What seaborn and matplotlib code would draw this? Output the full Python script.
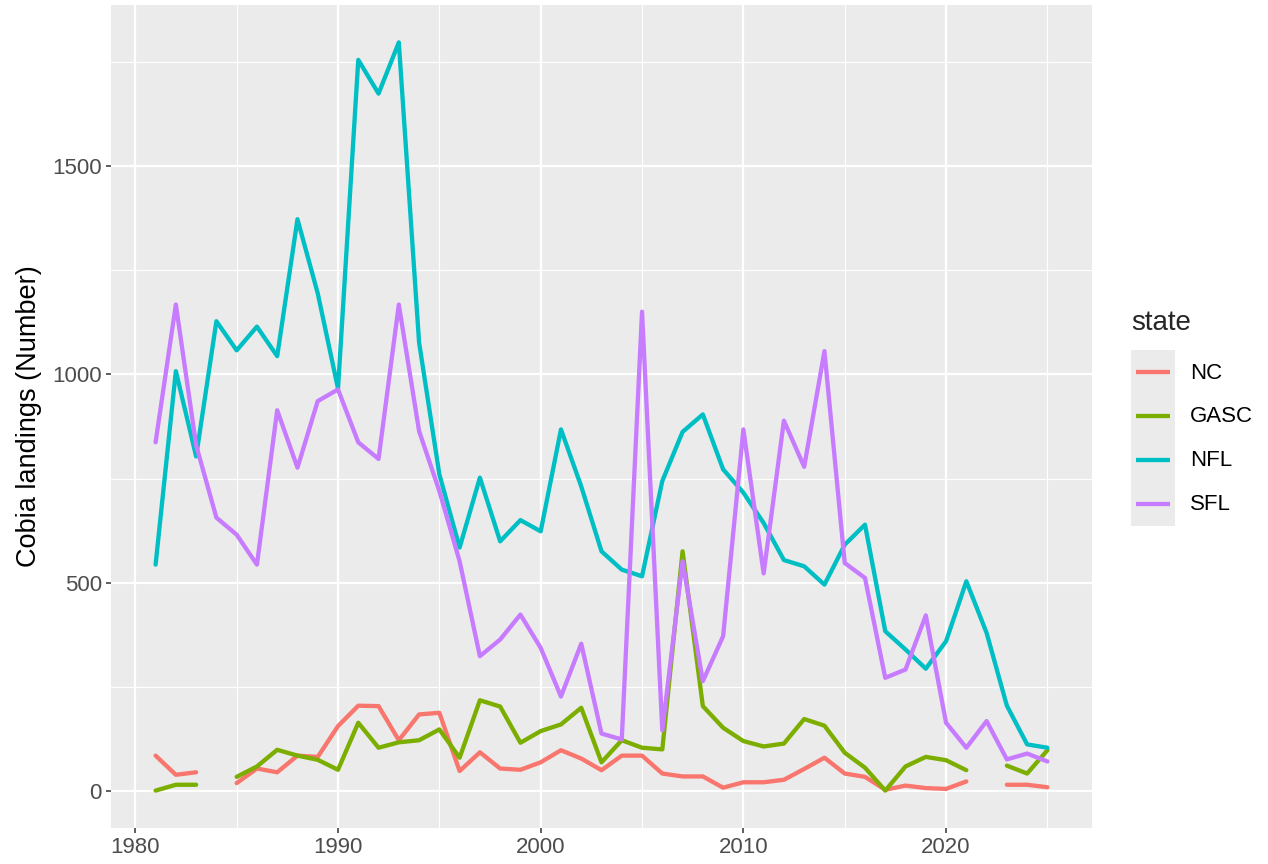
import numpy as np
import pandas as pd
import matplotlib
matplotlib.use('Agg')
import matplotlib.pyplot as plt
import seaborn as sns

# data (NaN = year missing)
years = list(range(1981, 2026))
nan = np.nan

nc = [84, 38, 44, nan, 18, 53, 44, 84, 81, 155,
      204, 203, 121, 183, 187, 47, 92, 53, 50, 68,
      97, 77, 49, 84, 84, 41, 34, 34, 7, 20,
      20, 26, 52, 79, 41, 33, 2, 12, 6, 4,
      22, nan, 14, 14, 8]
gasc = [0, 14, 14, nan, 33, 58, 98, 84, 74, 50,
        163, 103, 116, 121, 147, 79, 217, 202, 115, 143,
        159, 199, 68, 121, 103, 99, 575, 203, 151, 119,
        106, 113, 172, 156, 91, 55, 0, 58, 81, 73,
        49, nan, 60, 41, 97]
nfl = [543, 1008, 803, 1128, 1058, 1115, 1044, 1373, 1195, 966,
       1756, 1675, 1798, 1077, 760, 584, 752, 599, 650, 623,
       868, 731, 575, 531, 515, 744, 862, 904, 772, 716,
       643, 554, 539, 495, 591, 639, 383, 339, 293, 359,
       503, 379, 204, 111, 103]
sfl = [837, 1168, 830, 656, 615, 543, 914, 776, 936, 964,
       837, 797, 1168, 864, 720, 551, 323, 363, 423, 343,
       226, 353, 137, 123, 1151, 145, 551, 263, 371, 868,
       522, 889, 778, 1056, 547, 511, 271, 291, 421, 163,
       103, 167, 75, 89, 70]

states = ['NC', 'GASC', 'NFL', 'SFL']
colors = ['#F8766D', '#7CAE00', '#00BFC4', '#C77CFF']
series = {'NC': nc, 'GASC': gasc, 'NFL': nfl, 'SFL': sfl}

# long table, with a segment id so gaps break the line
rows = []
for st in states:
    seg = 0
    for yr, v in zip(years, series[st]):
        if np.isnan(v):
            seg += 1
            continue
        rows.append({'year': yr, 'landings': v, 'state': st, 'seg': f'{st}_{seg}'})
df = pd.DataFrame(rows)

sns.set_theme(style='darkgrid', rc={
    'axes.facecolor': '#EBEBEB',
    'grid.color': 'white',
    'axes.edgecolor': 'white',
})
plt.rcParams['font.family'] = ['Liberation Sans', 'DejaVu Sans']

fig = plt.figure(figsize=(12.68, 8.64), dpi=100)
ax = fig.add_axes([111 / 1268, 36 / 864, 981 / 1268, 823 / 864])

sns.lineplot(data=df, x='year', y='landings', hue='state', units='seg',
             estimator=None, palette=dict(zip(states, colors)),
             hue_order=states, linewidth=3.1, legend=False, ax=ax,
             solid_joinstyle='round', solid_capstyle='round')

# ggplot-style 5% expansion
x0, x1 = min(years), max(years)
y0, y1 = df.landings.min(), df.landings.max()
ax.set_xlim(x0 - 0.05 * (x1 - x0), x1 + 0.05 * (x1 - x0))
ax.set_ylim(y0 - 0.05 * (y1 - y0), y1 + 0.05 * (y1 - y0))

ax.set_xticks([1980, 1990, 2000, 2010, 2020])
ax.set_xticks([1985, 1995, 2005, 2015, 2025], minor=True)
ax.set_yticks([0, 500, 1000, 1500])
ax.set_yticks([250, 750, 1250, 1750], minor=True)
ax.grid(which='major', color='white', linewidth=1.6)
ax.grid(which='minor', color='white', linewidth=0.8)
ax.tick_params(which='major', length=3.6, width=1.1, color='#333333',
               labelsize=16, labelcolor='#4D4D4D', pad=3, bottom=True, left=True)
ax.tick_params(which='minor', length=0)
for s in ax.spines.values():
    s.set_visible(False)

ax.set_xlabel('')
ax.set_ylabel('Cobia landings (Number)', fontsize=19.5, color='black', labelpad=7)

# legend in ggplot style
fig.text(1131 / 1268, 1 - 323 / 864, 'state', fontsize=20, va='center', ha='left')
lax = fig.add_axes([1131 / 1268, 1 - 526 / 864, 44 / 1268, 176 / 864])
lax.set_xlim(0, 1)
lax.set_ylim(0, 4)
lax.axis('off')
lax.add_patch(plt.Rectangle((0, 0), 1, 4, color='#EBEBEB', zorder=0))
for i, (st, c) in enumerate(zip(states, colors)):
    yy = 3.5 - i
    lax.plot([0.11, 0.89], [yy, yy], color=c, linewidth=3.1, solid_capstyle='butt')
    fig.text(1190 / 1268, 1 - (373 + 44 * i) / 864, st, fontsize=16,
             va='center', ha='left', color='black')

plt.savefig('out.png', dpi=100)
